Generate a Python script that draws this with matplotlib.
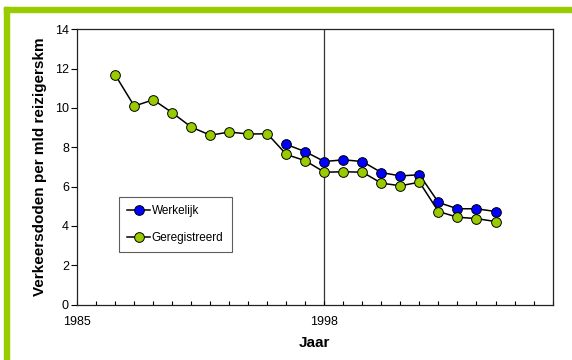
import matplotlib.pyplot as plt
from matplotlib.patches import Rectangle

plt.rcParams['font.family'] = ['Liberation Sans', 'DejaVu Sans']

# Verkeersdoden per miljard reizigerskilometer
jaren_geregistreerd = list(range(1987, 2008))
geregistreerd = [11.67, 10.09, 10.41, 9.75, 9.02, 8.61, 8.77, 8.67, 8.68,
                 7.63, 7.31, 6.73, 6.75, 6.73, 6.17, 6.04, 6.22,
                 4.73, 4.44, 4.37, 4.22]
jaren_werkelijk = list(range(1996, 2008))
werkelijk = [8.14, 7.77, 7.27, 7.36, 7.27, 6.71, 6.54, 6.60,
             5.19, 4.87, 4.87, 4.73]

x_labels = {1985: '1985', 1998: '1998'}

fig = plt.figure(figsize=(5.72, 3.6), dpi=100)
ax = fig.add_axes([0.135, 0.154, 0.831, 0.765])

# green frame on top and left
fig.patches.append(Rectangle((4 / 572, 0), 5 / 572, (360 - 7) / 360,
                             transform=fig.transFigure, color='#99CC00', zorder=0))
fig.patches.append(Rectangle((4 / 572, (360 - 12.3) / 360), 1, 5.3 / 360,
                             transform=fig.transFigure, color='#99CC00', zorder=0))

ax.axvline(1998, color='#333333', linewidth=0.9, zorder=1)

ax.plot(jaren_werkelijk, werkelijk, color='black', linewidth=1.1,
        marker='o', markersize=7, markerfacecolor='#0000FF',
        markeredgecolor='black', markeredgewidth=0.7, label='Werkelijk', zorder=3)
ax.plot(jaren_geregistreerd, geregistreerd, color='black', linewidth=1.1,
        marker='o', markersize=7, markerfacecolor='#99CC00',
        markeredgecolor='black', markeredgewidth=0.7, label='Geregistreerd', zorder=3)

ax.set_xlim(1985, 2010)
ax.set_ylim(0, 14)
ax.set_yticks(range(0, 15, 2))
ax.set_xticks(range(1985, 2011))
ax.set_xticklabels([x_labels.get(j, '') for j in range(1985, 2011)])
ax.tick_params(axis='x', direction='in', length=3, width=0.8, labelsize=9, pad=8)
ax.tick_params(axis='y', direction='out', length=4, width=0.8, labelsize=9, pad=2)

for s in ax.spines.values():
    s.set_linewidth(0.9)
    s.set_color('#222222')

ax.set_xlabel('Jaar', fontsize=11, fontweight='bold', labelpad=6)
ax.set_ylabel('Verkeersdoden per mld reizigerskm', fontsize=11,
              fontweight='bold', labelpad=6)

leg = ax.legend(loc='upper left', bbox_to_anchor=(0.087, 0.392), fontsize=8.5,
                frameon=True, fancybox=False, edgecolor='#333333',
                handlelength=2.0, handletextpad=0.1, borderpad=0.7,
                labelspacing=1.3, borderaxespad=0)
leg.get_frame().set_linewidth(0.8)

fig.savefig('out.png', dpi=100)
